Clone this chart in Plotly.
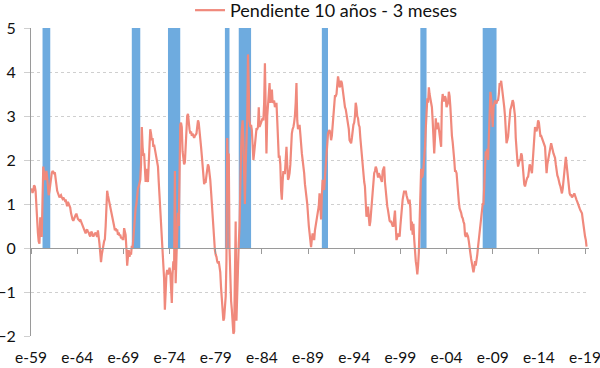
import pandas as pd
import plotly.graph_objects as go

# ---- data (monthly, from Jan 1959) ----
inicio_serie = "1959-01-01"
pendiente = [
    1.3, 1.35, 1.25, 1.3, 1.42, 1.4, 1.3, 0.9, 0.6, 0.35, 0.15, 0.1,          # 1959
    0.7, 0.4, 0.25, 1.1, 1.85, 1.7, 1.55, 1.6, 1.75, 1.6, 1.35, 1.2,          # 1960
    1.3, 1.45, 1.6, 1.7, 1.75, 1.72, 1.7, 1.72, 1.55, 1.4, 1.3, 1.25,         # 1961
    1.2, 1.15, 1.18, 1.2, 1.15, 1.12, 1.15, 1.1, 1.08, 1.1, 0.98, 0.95,       # 1962
    1.05, 1.0, 0.95, 0.92, 0.8, 0.68, 0.65, 0.62, 0.68, 0.72, 0.75, 0.78,     # 1963
    0.7, 0.66, 0.64, 0.62, 0.65, 0.6, 0.56, 0.52, 0.5, 0.45, 0.38, 0.33,      # 1964
    0.4, 0.42, 0.37, 0.35, 0.3, 0.26, 0.35, 0.37, 0.3, 0.26, 0.3, 0.33,       # 1965
    0.35, 0.3, 0.25, 0.4, 0.15, 0.1, -0.1, -0.32, -0.15, 0.0, 0.05, 0.15,     # 1966
    0.2, 0.5, 0.8, 1.3, 1.2, 1.1, 1.05, 0.95, 0.85, 0.7, 0.6, 0.55,           # 1967
    0.5, 0.4, 0.45, 0.38, 0.42, 0.3, 0.35, 0.28, 0.3, 0.22, 0.25, 0.2,        # 1968
    0.2, 0.45, 0.4, 0.3, 0.0, -0.4, -0.2, -0.05, -0.2, -0.1, -0.15, 0.05,     # 1969
    0.0, 0.3, 0.5, 0.8, 0.9, 1.0, 1.2, 1.35, 1.4, 1.5, 1.55, 1.9,             # 1970
    2.75, 2.3, 2.1, 2.15, 1.6, 1.5, 1.8, 1.65, 1.5, 1.9, 2.4, 2.7,            # 1971
    2.6, 2.45, 2.5, 2.3, 2.35, 2.25, 2.15, 2.05, 2.0, 1.85, 1.5, 1.2,         # 1972
    0.8, 0.45, 0.2, 0.0, -0.3, -0.7, -1.4, -0.75, -0.6, -0.5, -0.6, -0.55,    # 1973
    -0.45, -0.55, -0.9, -1.25, -0.6, -0.3, -0.5, 1.75, -0.8, 0.1, 0.35, 0.8,  # 1974
    0.5, 1.6, 2.8, 2.85, 2.75, 2.2, 2.0, 1.9, 1.95, 2.3, 2.7, 3.0,            # 1975
    3.05, 2.8, 2.7, 2.6, 2.65, 2.55, 2.6, 2.55, 2.5, 2.55, 2.6, 2.6,          # 1976
    2.75, 2.9, 2.85, 2.7, 2.45, 2.3, 2.1, 1.9, 1.6, 1.45, 1.5, 1.5,           # 1977
    1.65, 1.75, 1.9, 1.85, 1.75, 1.55, 1.3, 1.0, 0.65, 0.4, 0.15, -0.05,      # 1978
    -0.15, -0.2, -0.3, -0.35, -0.3, -0.45, -0.55, -0.9, -1.1, -1.35, -1.65, -1.6,  # 1979
    -1.3, -1.1, -0.3, 2.5, 1.6, 2.15, 0.0, -0.9, -1.2, -1.4, -1.75, -1.95,    # 1980
    -1.9, -0.9, 0.6, -1.65, -0.9, -0.2, 0.1, 0.5, 1.6, 2.2, 2.7, 2.9,         # 1981
    2.4, 1.8, 1.0, 1.9, 2.4, 2.9, 4.4, 3.3, 2.9, 2.75, 2.8, 2.68,             # 1982
    2.2, 2.0, 2.15, 2.3, 2.55, 2.7, 2.7, 2.75, 3.2, 2.75, 2.8, 2.85,          # 1983
    2.85, 2.95, 2.9, 3.3, 4.2, 3.0, 2.15, 3.0, 3.35, 3.6, 3.75, 3.3,          # 1984
    3.5, 3.6, 3.3, 3.35, 3.35, 3.2, 3.25, 3.3, 2.9, 2.1, 2.05, 2.1,           # 1985
    1.9, 1.3, 1.1, 1.5, 1.75, 1.7, 1.7, 2.0, 2.3, 1.9, 1.55, 1.6,             # 1986
    1.7, 1.9, 2.4, 2.6, 2.7, 2.75, 2.85, 3.0, 3.3, 3.75, 2.9, 2.7,            # 1987
    2.75, 2.8, 2.6, 2.2, 2.15, 2.0, 1.9, 1.7, 1.45, 1.35, 1.15, 1.0,          # 1988
    0.65, 0.5, 0.35, 0.15, 0.02, 0.2, 0.33, 0.25, 0.18, 0.4, 0.5, 0.62,       # 1989
    0.7, 0.8, 0.95, 1.24, 0.9, 0.65, 1.2, 1.55, 1.4, 1.32, 1.6, 1.9,          # 1990
    2.3, 2.45, 2.6, 2.65, 2.68, 2.6, 2.45, 2.55, 2.75, 2.9, 3.2, 3.45,        # 1991
    3.45, 3.5, 3.7, 3.9, 3.8, 3.65, 3.7, 3.8, 3.75, 3.6, 3.45, 3.3,           # 1992
    3.2, 3.15, 3.05, 3.0, 2.9, 2.7, 2.45, 2.4, 2.38, 2.5, 2.7, 2.8,           # 1993
    2.85, 3.0, 3.3, 3.2, 3.0, 2.95, 2.8, 2.75, 2.5, 2.3, 2.0, 1.75,           # 1994
    1.7, 1.5, 1.4, 1.0, 0.71, 0.8, 0.94, 0.7, 0.5, 0.6, 0.85, 0.94,           # 1995
    1.3, 1.45, 1.7, 1.75, 1.85, 1.8, 1.65, 1.6, 1.7, 1.65, 1.55, 1.5,         # 1996
    1.5, 1.75, 1.8, 1.85, 1.5, 1.25, 1.1, 0.95, 0.85, 0.7, 0.62, 0.6,         # 1997
    0.6, 0.55, 0.5, 0.5, 0.7, 0.85, 0.5, 0.18, 0.25, 0.33, 0.3, 0.26,         # 1998
    0.5, 0.75, 0.9, 1.1, 1.2, 1.3, 1.25, 1.3, 1.2, 1.15, 1.1, 1.0,            # 1999
    1.1, 0.9, 0.4, 0.6, 0.3, 0.55, 0.2, -0.27, -0.3, -0.42, -0.6, -0.4,       # 2000
    -0.1, 0.6, 1.2, 1.8, 1.6, 1.65, 1.8, 2.0, 2.3, 2.7, 3.3, 3.4,             # 2001
    3.3, 3.65, 3.5, 3.35, 3.3, 3.2, 2.9, 2.5, 2.15, 2.5, 2.95, 2.7,           # 2002
    2.75, 2.85, 2.7, 2.6, 2.35, 2.3, 3.3, 3.5, 3.35, 3.35, 3.45, 3.4,         # 2003
    3.2, 3.25, 3.3, 3.55, 3.45, 3.2, 2.75, 2.55, 2.4, 2.25, 2.0, 1.75,        # 2004
    1.75, 1.7, 1.45, 1.1, 1.05, 0.9, 0.86, 0.8, 0.71, 0.68, 0.6, 0.55,        # 2005
    0.3, 0.25, 0.35, 0.3, 0.26, 0.15, -0.05, -0.12, -0.25, -0.35, -0.5, -0.55,  # 2006
    -0.45, -0.3, -0.4, -0.3, -0.15, 0.03, 0.2, 0.45, 0.55, 0.7, 0.85, 1.0,    # 2007
    1.0, 1.6, 1.8, 2.2, 2.1, 2.25, 2.0, 2.4, 2.9, 3.55, 3.4, 2.8,             # 2008
    2.75, 3.2, 3.3, 3.35, 3.3, 3.3, 3.35, 3.36, 3.5, 3.75, 3.7, 3.8,          # 2009
    3.65, 3.5, 3.45, 3.2, 3.0, 2.7, 2.38, 2.45, 2.53, 2.75, 3.0, 3.15,        # 2010
    3.2, 3.3, 3.36, 3.3, 3.15, 3.0, 2.5, 2.15, 2.0, 1.85, 1.95, 2.0,          # 2011
    2.0, 2.15, 2.1, 1.8, 1.55, 1.45, 1.4, 1.5, 1.55, 1.6, 1.62, 1.75,         # 2012
    1.9, 1.85, 1.75, 1.7, 1.95, 2.3, 2.55, 2.75, 2.7, 2.65, 2.75, 2.9,        # 2013
    2.85, 2.6, 2.55, 2.55, 2.5, 2.45, 2.4, 2.35, 2.3, 2.0, 1.7, 1.9,          # 2014
    2.0, 2.1, 2.2, 2.3, 2.38, 2.3, 2.2, 2.15, 2.1, 2.05, 1.9, 1.7,            # 2015
    1.65, 1.6, 1.5, 1.45, 1.4, 1.3, 1.24, 1.35, 1.5, 1.65, 1.85, 2.07,        # 2016
    1.9, 1.7, 1.5, 1.3, 1.24, 1.2, 1.2, 1.15, 1.17, 1.2, 1.24, 1.17,          # 2017
    1.15, 1.09, 1.05, 0.98, 0.94, 0.9, 0.86, 0.82, 0.79, 0.65, 0.48, 0.35,    # 2018
    0.26, 0.18, 0.03,                                                          # 2019
]
serie_nombre = "Pendiente 10 años - 3 meses"

# NBER recessions (start, end)
recesion_inicio = ["1960-04-01", "1969-12-01", "1973-11-01", "1980-01-01",
                   "1981-07-01", "1990-07-01", "2001-03-01", "2007-12-01"]
recesion_fin = ["1961-02-01", "1970-11-01", "1975-03-01", "1980-07-01",
                "1982-11-01", "1991-03-01", "2001-11-01", "2009-06-01"]
recesion_valor = 5

tick_fechas = ["1959-01-01", "1964-01-01", "1969-01-01", "1974-01-01", "1979-01-01",
               "1984-01-01", "1989-01-01", "1994-01-01", "1999-01-01", "2004-01-01",
               "2009-01-01", "2014-01-01", "2019-01-01"]
tick_textos = ["e-59", "e-64", "e-69", "e-74", "e-79", "e-84", "e-89", "e-94",
               "e-99", "e-04", "e-09", "e-14", "e-19"]
y_ticks = [-2, -1, 0, 1, 2, 3, 4, 5]

# ---- build ----
fechas = pd.date_range(inicio_serie, periods=len(pendiente), freq="MS")
r_ini = pd.to_datetime(recesion_inicio)
r_fin = pd.to_datetime(recesion_fin)
r_mid = r_ini + (r_fin - r_ini) / 2
r_ancho = [(b - a).total_seconds() * 1000 for a, b in zip(r_ini, r_fin)]

FONT = "Lato, 'Open Sans', sans-serif"
LINE_COLOR = "#F0897C"
BAR_COLOR = "#6EABDF"
AXIS_GRAY = "#9a9a9a"

fig = go.Figure()
fig.add_trace(go.Bar(
    x=r_mid, y=[recesion_valor] * len(r_mid), base=0, width=r_ancho,
    marker=dict(color=BAR_COLOR, line=dict(width=0)),
    showlegend=False, hoverinfo="skip", xaxis="x", yaxis="y",
))
fig.add_trace(go.Scatter(
    x=fechas, y=pendiente, mode="lines", name=serie_nombre,
    line=dict(color=LINE_COLOR, width=2.2),
    xaxis="x2", yaxis="y",
))

x_range = ["1959-01-01", "2019-06-06"]

fig.update_layout(
    width=600, height=368,
    margin=dict(l=31, r=11, t=28, b=32, autoexpand=False),
    paper_bgcolor="white", plot_bgcolor="white",
    font=dict(family=FONT, size=17, color="#111111"),
    showlegend=True,
    legend=dict(
        orientation="h", x=0.285, xanchor="left", y=1.117, yanchor="top",
        font=dict(family=FONT, size=18, color="#111111"),
        bgcolor="rgba(0,0,0,0)", borderwidth=0,
    ),
    xaxis=dict(
        type="date", range=x_range, automargin=False,
        tickmode="array", tickvals=tick_fechas, ticktext=tick_textos,
        showgrid=False, showline=False, zeroline=False, ticks="",
        ticklabelstandoff=10, ticklabeloverflow="allow",
        tickfont=dict(family=FONT, size=15.5, color="#111111"),
    ),
    xaxis2=dict(
        type="date", range=x_range, matches="x", overlaying="x",
        anchor="free", position=2 / 7, side="bottom", automargin=False,
        tickmode="array", tickvals=tick_fechas,
        showticklabels=False, showgrid=False, zeroline=False,
        showline=True, linecolor=AXIS_GRAY, linewidth=1,
        ticks="outside", ticklen=5, tickcolor=AXIS_GRAY, tickwidth=1,
    ),
    yaxis=dict(
        range=[-2, 5], tickmode="array", tickvals=y_ticks, automargin=False,
        showgrid=True, gridcolor="#cfcfcf", griddash="dot", gridwidth=1,
        zeroline=False, showline=True, linecolor=AXIS_GRAY, linewidth=1,
        ticks="outside", ticklen=6, tickcolor="#cfcfcf",
        ticklabelstandoff=5, ticklabeloverflow="allow",
        tickfont=dict(family=FONT, size=16, color="#111111"),
    ),
)

fig.write_html(
    "out.html",
    config={"displayModeBar": False},
    post_script="document.body.style.margin='0';document.body.style.padding='0';",
)
